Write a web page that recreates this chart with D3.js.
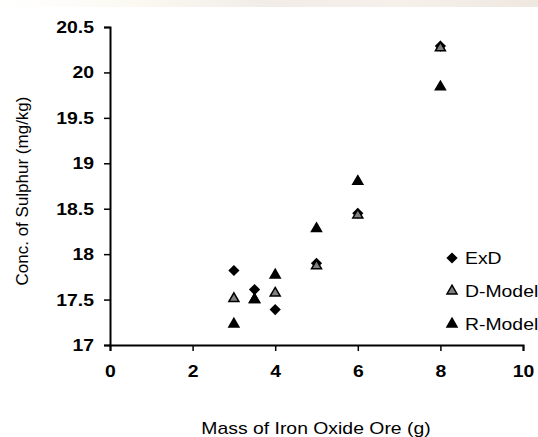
<!DOCTYPE html>
<html>
<head>
<meta charset="utf-8">
<script src="https://cdn.jsdelivr.net/npm/d3@7"></script>
<style>
  body { margin: 0; background: #fff; }
  svg { display: block; font-family: "Liberation Sans", Arial, sans-serif; }
</style>
</head>
<body>
<div id="chart"></div>
<script>
const massX = [3, 3.5, 4, 5, 6, 8];
const exD = [17.82, 17.61, 17.39, 17.9, 18.45, 20.29];
const dModel = [17.51, 17.5, 17.57, 17.87, 18.43, 20.27];
const rModel = [17.23, 17.5, 17.77, 18.28, 18.8, 19.84];
const xTicks = [0, 2, 4, 6, 8, 10];
const yTicks = [17, 17.5, 18, 18.5, 19, 19.5, 20, 20.5];
const seriesNames = ["ExD", "D-Model", "R-Model"];

const W = 538, H = 437;
const margin = { top: 27, right: 15, bottom: 92, left: 110 };
const width = W - margin.left - margin.right;
const height = H - margin.top - margin.bottom;
const stretch = 1.14; // the source figure is a bit wider than tall

const svg = d3.select("#chart").append("svg")
    .attr("width", W)
    .attr("height", H);

// faint scanned band along the top edge
const grad = svg.append("defs").append("linearGradient").attr("id", "band");
[["0%", "#fff"], ["25%", "#fbf9f2"], ["50%", "#f1ece8"], ["75%", "#f5f0ea"], ["100%", "#efe8e1"]]
    .forEach(([o, c]) => grad.append("stop").attr("offset", o).attr("stop-color", c));
svg.append("rect").attr("width", W).attr("height", 7).attr("fill", "url(#band)");

const g = svg.append("g")
    .attr("transform", `translate(${margin.left},${margin.top})`);

const x = d3.scaleLinear().domain([0, 10]).range([0, width]);
const y = d3.scaleLinear().domain([17, 20.5]).range([height, 0]);

//x axis
const xAxis = g.append("g")
    .attr("transform", `translate(0,${height})`)
    .call(d3.axisBottom(x).tickValues(xTicks).tickSize(6).tickPadding(14).tickFormat(d3.format("d")));

//y axis
const yAxis = g.append("g")
    .call(d3.axisLeft(y).tickValues(yTicks).tickSize(6).tickPadding(10).tickFormat(d => d));

[xAxis, yAxis].forEach(a => {
    a.select(".domain").attr("stroke", "#000").attr("stroke-width", 2);
    a.selectAll(".tick line").attr("stroke", "#000").attr("stroke-width", 1.5);
    a.selectAll(".tick text")
        .attr("fill", "#000")
        .style("font-size", "17px")
        .style("font-weight", "bold")
        .style("font-family", "'Liberation Sans', Arial, sans-serif");
});

//axis titles
svg.append("text")
    .attr("class", "wide")
    .attr("x", 316)
    .attr("y", 434)
    .attr("text-anchor", "middle")
    .style("font-size", "17px")
    .text("Mass of Iron Oxide Ore (g)");

svg.append("text")
    .attr("transform", "rotate(-90)")
    .attr("x", -191)
    .attr("y", 28)
    .attr("text-anchor", "middle")
    .style("font-size", "17px")
    .text("Conc. of Sulphur (mg/kg)");

const diamond = d3.symbol().type(d3.symbolDiamond2).size(80);
const tri = d3.symbol().type(d3.symbolTriangle2).size(72);

const series = [
    { name: seriesNames[0], values: exD, shape: diamond, fill: "#000", stroke: "none" },
    { name: seriesNames[1], values: dModel, shape: tri, fill: "#808080", stroke: "#000" },
    { name: seriesNames[2], values: rModel, shape: tri, fill: "#000", stroke: "#000" }
];

series.forEach(s => {
    g.append("g")
        .selectAll("path")
        .data(massX.map((m, i) => [m, s.values[i]]))
        .join("path")
            .attr("d", s.shape)
            .attr("transform", d => `translate(${x(d[0])},${y(d[1])})`)
            .attr("fill", s.fill)
            .attr("stroke", s.stroke)
            .attr("stroke-width", 1.5);
});

//legend
const legend = svg.append("g").attr("transform", "translate(452,258)");
series.forEach((s, i) => {
    const row = legend.append("g").attr("transform", `translate(0,${i * 33})`);
    row.append("path")
        .attr("d", s.shape)
        .attr("fill", s.fill)
        .attr("stroke", s.stroke)
        .attr("stroke-width", 1.5);
    row.append("text")
        .attr("class", "wide")
        .attr("x", 13)
        .attr("y", 6)
        .style("font-size", "17px")
        .text(s.name);
});

//widen horizontal text to match the stretched source
svg.selectAll(".tick text, text.wide").each(function () {
    const len = this.getComputedTextLength();
    d3.select(this)
        .attr("textLength", len * stretch)
        .attr("lengthAdjust", "spacingAndGlyphs");
});
</script>
</body>
</html>
